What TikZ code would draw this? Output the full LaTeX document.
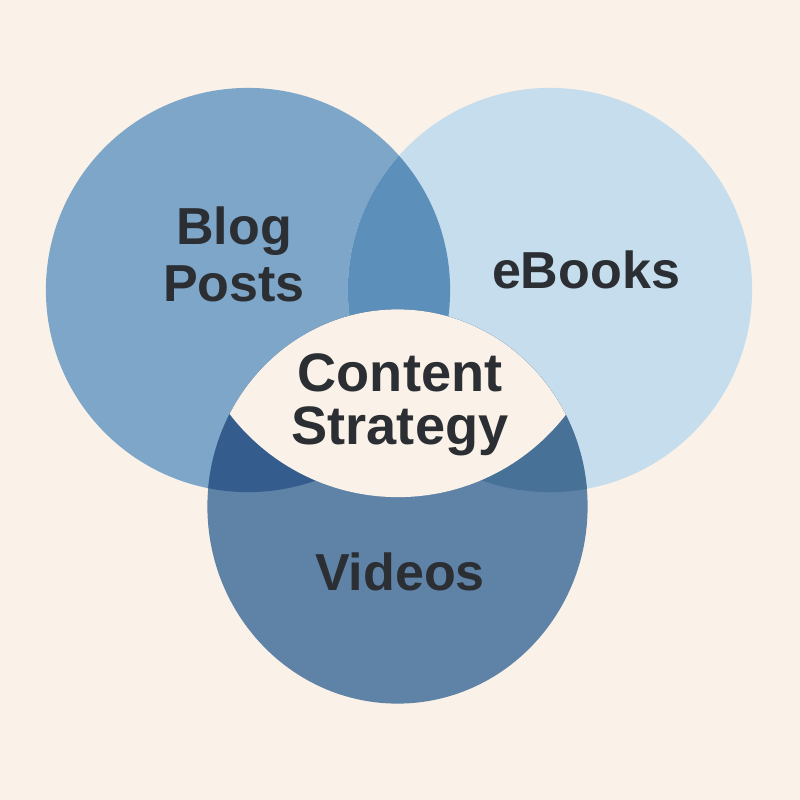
\documentclass[tikz,border=0pt]{standalone}
\usepackage{fontspec}
\setmainfont{Liberation Sans}
\usepackage{tikz}
\usetikzlibrary{positioning}
\definecolor{vennbg}{RGB}{250,242,232}
\definecolor{blogblue}{RGB}{126,166,201}
\definecolor{ebookblue}{RGB}{197,221,236}
\definecolor{videoblue}{RGB}{95,130,167}
\definecolor{blogebook}{RGB}{92,143,186}
\definecolor{blogvideo}{RGB}{52,92,140}
\definecolor{ebookvideo}{RGB}{71,113,151}
\definecolor{venntext}{RGB}{43,46,50}

\begin{document}
\begin{tikzpicture}[x=0.01cm,y=-0.01cm,
    lbl/.style={text=venntext,align=center,inner sep=0pt,
      font=\bfseries\fontsize{14.8}{16.2}\selectfont}]
  \fill[vennbg] (0,0) rectangle (800,800);
  \coordinate (A) at (248,290);    % blog posts
  \coordinate (B) at (550,290);    % ebooks
  \coordinate (C) at (397.5,506.5);  % videos
  \coordinate (D) at (398,285);    % lower edge of the centre
  \fill[blogblue] (A) circle (2.02cm);
  \fill[ebookblue] (B) circle (2.02cm);
  \fill[videoblue] (C) ellipse (1.9cm and 1.97cm);
  \begin{scope}
    \clip (A) circle (2.02cm);
    \fill[blogebook] (B) circle (2.02cm);
    \fill[blogvideo] (C) ellipse (1.9cm and 1.97cm);
  \end{scope}
  \begin{scope}
    \clip (B) circle (2.02cm);
    \fill[ebookvideo] (C) ellipse (1.9cm and 1.97cm);
  \end{scope}
  \begin{scope}
    \clip (C) ellipse (1.9cm and 1.97cm);
    \fill[vennbg] (D) circle (2.12cm);
  \end{scope}
  \node[lbl] (blog) at (234,254) {Blog\\Posts};
  \node[lbl] (ebook) at (586,270) {eBooks};
  \node[lbl,font=\bfseries\fontsize{15.4}{15.1}\selectfont] (core) at (400,405) {Content\\Strategy};
  \node[lbl] (video) at (400,572) {Videos};
\end{tikzpicture}
\end{document}
